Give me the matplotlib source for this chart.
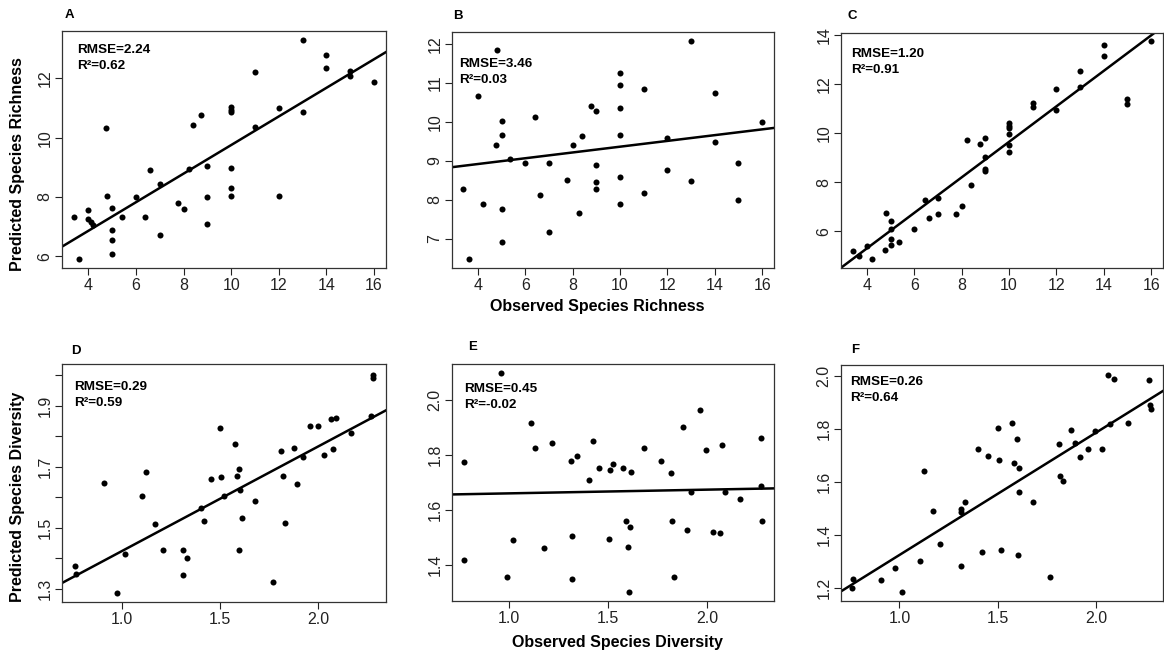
import numpy as np
import matplotlib.pyplot as plt

plt.rcParams['font.family'] = ['Liberation Sans', 'DejaVu Sans']

# ---- data ----
# A: species richness, model 1
a_obs = [3.4, 3.6, 4.0, 4.0, 4.1, 4.2, 4.75, 4.8, 5.0, 5.0, 5.0, 5.0, 5.4, 6.0, 6.4,
         6.6, 7.0, 7.0, 7.75, 8.0, 8.25, 8.4, 8.75, 9.0, 9.0, 9.0, 10.0, 10.0, 10.0,
         10.0, 10.0, 10.0, 11.0, 11.0, 12.0, 12.0, 13.0, 13.0, 14.0, 14.0, 15.0, 15.0, 16.0]
a_pred = [7.33, 5.92, 7.55, 7.24, 7.15, 7.06, 10.31, 8.03, 7.63, 6.88, 6.54, 6.06, 7.33,
          8.0, 7.33, 8.9, 8.43, 6.73, 7.81, 7.59, 8.95, 10.42, 10.78, 9.04, 8.0, 7.07,
          11.05, 10.94, 10.85, 8.99, 8.31, 8.02, 12.23, 10.35, 11.0, 8.03, 13.29, 10.85,
          12.8, 12.34, 12.25, 12.07, 11.87]

# B: species richness, model 2
b_obs = [3.35, 3.6, 4.0, 4.2, 4.75, 4.8, 5.0, 5.0, 5.0, 5.0, 5.35, 6.0, 6.4, 6.6, 7.0,
         7.0, 7.75, 8.0, 8.25, 8.4, 8.75, 9.0, 9.0, 9.0, 9.0, 10.0, 10.0, 10.0, 10.0,
         10.0, 10.0, 11.0, 11.0, 12.0, 12.0, 13.0, 13.0, 14.0, 14.0, 15.0, 15.0, 16.0]
b_pred = [8.28, 6.47, 10.66, 7.88, 9.40, 11.84, 10.02, 9.65, 7.75, 6.91, 9.05, 8.95,
          10.13, 8.11, 8.93, 7.17, 8.50, 9.40, 7.66, 9.64, 10.41, 10.28, 8.88, 8.46,
          8.27, 11.26, 10.94, 10.35, 9.67, 8.58, 7.90, 10.85, 8.17, 9.59, 8.76, 12.08,
          8.48, 10.73, 9.48, 8.95, 8.0, 9.98]

# C: species richness, model 3
c_obs = [3.4, 3.65, 4.0, 4.2, 4.77, 4.8, 5.0, 5.0, 5.0, 5.0, 5.36, 6.0, 6.45, 6.62,
         7.0, 7.0, 7.75, 8.0, 8.23, 8.41, 8.76, 9.0, 9.0, 9.0, 9.0, 10.0, 10.0, 10.0,
         10.0, 10.0, 10.0, 11.0, 11.0, 12.0, 12.0, 13.0, 13.0, 14.0, 14.0, 15.0, 15.0, 16.0]
c_pred = [5.19, 4.98, 5.40, 4.87, 5.25, 6.75, 6.43, 6.09, 5.69, 5.44, 5.59, 6.09, 7.29,
          6.57, 7.36, 6.72, 6.71, 7.04, 9.73, 7.90, 9.55, 9.82, 9.02, 8.55, 8.48, 10.42,
          10.32, 10.22, 9.99, 9.54, 9.25, 11.26, 11.08, 11.80, 10.96, 12.54, 11.90,
          13.59, 13.17, 11.42, 11.21, 13.76]

# D: species diversity, model 1
d_obs = [0.763, 0.764, 0.907, 0.976, 1.015, 1.105, 1.125, 1.171, 1.210, 1.310, 1.310,
         1.334, 1.402, 1.419, 1.453, 1.502, 1.507, 1.519, 1.575, 1.585, 1.600, 1.603,
         1.600, 1.614, 1.681, 1.769, 1.814, 1.822, 1.834, 1.876, 1.893, 1.924, 1.961,
         2.0, 2.029, 2.066, 2.075, 2.093, 2.169, 2.271, 2.280, 2.283]
d_pred = [1.375, 1.347, 1.647, 1.287, 1.413, 1.603, 1.682, 1.512, 1.426, 1.426, 1.343,
          1.402, 1.565, 1.523, 1.660, 1.828, 1.665, 1.603, 1.773, 1.671, 1.693, 1.624,
          1.426, 1.531, 1.588, 1.320, 1.751, 1.671, 1.515, 1.762, 1.644, 1.732, 1.832,
          1.835, 1.737, 1.857, 1.758, 1.859, 1.811, 1.868, 1.992, 2.002]

# E: species diversity, model 2
e_obs = [0.769, 0.771, 0.958, 0.987, 1.020, 1.108, 1.130, 1.177, 1.214, 1.315, 1.313,
         1.316, 1.342, 1.404, 1.426, 1.456, 1.505, 1.510, 1.524, 1.577, 1.591, 1.603,
         1.611, 1.616, 1.608, 1.680, 1.769, 1.818, 1.822, 1.835, 1.877, 1.899, 1.921,
         1.963, 1.998, 2.029, 2.067, 2.076, 2.091, 2.168, 2.274, 2.274, 2.281]
e_pred = [1.773, 1.418, 2.096, 1.357, 1.490, 1.916, 1.825, 1.460, 1.843, 1.506, 1.777,
          1.348, 1.797, 1.709, 1.849, 1.752, 1.494, 1.746, 1.768, 1.752, 1.560, 1.463,
          1.536, 1.736, 1.299, 1.825, 1.777, 1.734, 1.560, 1.357, 1.902, 1.528, 1.664,
          1.961, 1.819, 1.520, 1.514, 1.837, 1.664, 1.639, 1.862, 1.687, 1.560]

# F: species diversity, model 3
f_obs = [0.760, 0.765, 0.904, 0.980, 1.015, 1.106, 1.125, 1.171, 1.209, 1.311, 1.311,
         1.311, 1.336, 1.399, 1.419, 1.449, 1.502, 1.505, 1.519, 1.573, 1.584, 1.598,
         1.603, 1.606, 1.611, 1.682, 1.765, 1.813, 1.819, 1.831, 1.872, 1.895, 1.919,
         1.961, 1.997, 2.030, 2.061, 2.073, 2.093, 2.164, 2.269, 2.277, 2.280]
f_pred = [1.201, 1.235, 1.229, 1.275, 1.185, 1.302, 1.643, 1.492, 1.367, 1.500, 1.485,
          1.282, 1.526, 1.727, 1.335, 1.697, 1.806, 1.683, 1.342, 1.822, 1.674, 1.762,
          1.323, 1.653, 1.564, 1.524, 1.241, 1.743, 1.624, 1.604, 1.796, 1.747, 1.693,
          1.724, 1.793, 1.724, 2.006, 1.818, 1.990, 1.822, 1.987, 1.892, 1.877]

# fitted lines (intercept, slope) and stats as printed on the panels
fit_intercept = [4.92, 8.62, 2.42, 1.080, 1.646, 0.861]
fit_slope = [0.483, 0.074, 0.724, 0.343, 0.0135, 0.463]
rmse_labels = ['2.24', '3.46', '1.20', '0.29', '0.45', '0.26']
r2_labels = ['0.62', '0.03', '0.91', '0.59', '-0.02', '0.64']
panel_letters = ['A', 'B', 'C', 'D', 'E', 'F']

obs_all = [a_obs, b_obs, c_obs, d_obs, e_obs, f_obs]
pred_all = [a_pred, b_pred, c_pred, d_pred, e_pred, f_pred]

# ---- figure ----
W, H = 1164, 654
fig = plt.figure(figsize=(W / 100, H / 100), dpi=100)

# axes boxes in pixels: left, top, right, bottom
boxes = [(62, 31, 386, 268), (452, 32, 774, 268), (841, 33, 1163, 268),
         (62, 364, 386, 602), (452, 364, 774, 601), (841, 365, 1163, 601)]
xlims = [(2.9, 16.5)] * 3 + [(0.695, 2.347), (0.710, 2.340), (0.703, 2.341)]
ylims = [(5.6, 13.6), (6.25, 12.30), (4.51, 14.10),
         (1.256, 2.037), (1.268, 2.130), (1.150, 2.043)]
yticks = [[6, 8, 10, 12], [7, 8, 9, 10, 11, 12], [6, 8, 10, 12, 14],
          [1.3, 1.4, 1.5, 1.6, 1.7, 1.8, 1.9, 2.0], [1.4, 1.6, 1.8, 2.0],
          [1.2, 1.4, 1.6, 1.8, 2.0]]
letter_pos = [(69, 15), (458, 16), (852, 16), (76, 351), (473, 347), (855, 350)]
# left x / centre y of the RMSE line, in pixels
stat_pos = [(77, 50), (459, 64), (851, 54), (74, 387), (464, 389), (850, 382)]

for i in range(6):
    l, t, r, b = boxes[i]
    ax = fig.add_axes([l / W, 1 - b / H, (r - l) / W, (b - t) / H])
    ax.scatter(obs_all[i], pred_all[i], s=19, color='black', zorder=3, linewidths=0)
    ax.axline((0, fit_intercept[i]), slope=fit_slope[i], color='black', lw=1.8)
    ax.set_xlim(xlims[i])
    ax.set_ylim(ylims[i])
    if i < 3:
        ax.set_xticks([4, 6, 8, 10, 12, 14, 16])
        ax.set_yticks(yticks[i])
        ax.set_yticklabels([str(v) for v in yticks[i]])
    else:
        ax.set_xticks([1.0, 1.5, 2.0])
        ax.set_xticklabels(['1.0', '1.5', '2.0'])
        ax.set_yticks(yticks[i])
        if i == 3:
            labs = [f'{v:.1f}' if k % 2 == 0 else '' for k, v in enumerate(yticks[i])]
        else:
            labs = [f'{v:.1f}' for v in yticks[i]]
        ax.set_yticklabels(labs)
    ax.tick_params(labelsize=11.5, length=5, width=0.8, pad=2, colors='#222222')
    ax.tick_params(axis='y', labelrotation=90)
    for lab in ax.get_yticklabels():
        lab.set_va('center')
    for s in ax.spines.values():
        s.set_color('#333333')
        s.set_linewidth(0.9)
    sx, sy = stat_pos[i]
    fig.text(sx / W, 1 - sy / H, 'RMSE=' + rmse_labels[i],
             fontsize=9.7, fontweight='bold', va='center', ha='left')
    fig.text(sx / W, 1 - (sy + 16) / H, 'R²=' + r2_labels[i],
             fontsize=9.7, fontweight='bold', va='center', ha='left')
    lx, ly = letter_pos[i]
    fig.text(lx / W, 1 - ly / H, panel_letters[i], fontsize=9.5,
             fontweight='bold', ha='center', va='center')

fig.text(18 / W, 1 - 164 / H, 'Predicted Species Richness', rotation=90,
         fontsize=11.5, fontweight='bold', ha='center', va='center')
fig.text(18 / W, 1 - 497 / H, 'Predicted Species Diversity', rotation=90,
         fontsize=11.5, fontweight='bold', ha='center', va='center')
fig.text(597 / W, 1 - 306 / H, 'Observed Species Richness',
         fontsize=11.5, fontweight='bold', ha='center', va='center')
fig.text(617 / W, 1 - 642 / H, 'Observed Species Diversity',
         fontsize=11.5, fontweight='bold', ha='center', va='center')

fig.savefig('out.png', dpi=100, facecolor='white')
